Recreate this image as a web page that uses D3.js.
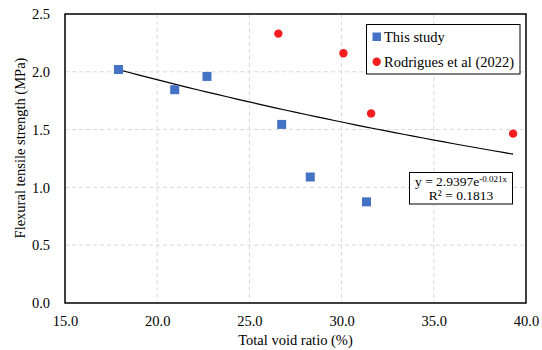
<!DOCTYPE html>
<html><head><meta charset="utf-8">
<script src="https://cdn.jsdelivr.net/npm/d3@7"></script>
<style>body{margin:0;background:#fff}svg{display:block}</style>
</head><body>
<svg id="c" width="542" height="350"></svg>
<script>
const thisStudyX = [17.9, 20.95, 22.7, 26.75, 28.3, 31.35];
const thisStudyY = [2.02, 1.845, 1.96, 1.545, 1.09, 0.875];
const rodriguesX = [26.57, 30.1, 31.6, 39.3];
const rodriguesY = [2.33, 2.16, 1.64, 1.465];
const xTicks = [15, 20, 25, 30, 35, 40];
const yTicks = [0, 0.5, 1.0, 1.5, 2.0, 2.5];
const trendA = 2.9397, trendB = -0.021, trendFrom = 17.9, trendTo = 39.3;
const seriesNames = ["This study", "Rodrigues et al (2022)"];

const FONT = "Liberation Serif";
const svg = d3.select("#c");
const L = 65, R = 526, T = 14, B = 303;
const x = d3.scaleLinear().domain([15, 40]).range([L, R]);
const y = d3.scaleLinear().domain([0, 2.5]).range([B, T]);

// gridlines
svg.append("g").selectAll("line").data(yTicks.filter(d => d > 0 && d < 2.5)).join("line")
  .attr("x1", L).attr("x2", R).attr("y1", d => y(d)).attr("y2", d => y(d))
  .attr("stroke", "#d9d9d9").attr("stroke-width", 1).attr("stroke-dasharray", "4,3");
svg.append("g").selectAll("line").data(xTicks.filter(d => d > 15 && d < 40)).join("line")
  .attr("y1", T).attr("y2", B).attr("x1", d => x(d)).attr("x2", d => x(d))
  .attr("stroke", "#d9d9d9").attr("stroke-width", 1).attr("stroke-dasharray", "4,3");

// axes
const fs = 14.5;
const xAxis = svg.append("g").attr("transform", `translate(0,${B})`)
  .call(d3.axisBottom(x).tickValues(xTicks).tickFormat(d3.format(".1f")).tickSize(0).tickPadding(13))
  .attr("font-family", FONT).attr("font-size", fs);
xAxis.select(".domain").remove();
const yAxis = svg.append("g").attr("transform", `translate(${L},0)`)
  .call(d3.axisLeft(y).tickValues(yTicks).tickFormat(d3.format(".1f")).tickSize(0).tickPadding(15))
  .attr("font-family", FONT).attr("font-size", fs);
yAxis.select(".domain").remove();
svg.selectAll(".tick text").attr("fill", "#000");

// plot border
svg.append("rect").attr("x", L).attr("y", T).attr("width", R - L).attr("height", B - T)
  .attr("fill", "none").attr("stroke", "#000").attr("stroke-width", 1.5);

// trendline
const tx = d3.range(0, 41).map(i => trendFrom + (trendTo - trendFrom) * i / 40);
svg.append("path").datum(tx)
  .attr("d", d3.line().x(d => x(d)).y(d => y(trendA * Math.exp(trendB * d))))
  .attr("fill", "none").attr("stroke", "#000").attr("stroke-width", 1.2);

// markers
svg.append("g").selectAll("rect").data(thisStudyX.map((v, i) => [v, thisStudyY[i]])).join("rect")
  .attr("x", d => x(d[0]) - 4.5).attr("y", d => y(d[1]) - 4.5).attr("width", 9).attr("height", 9)
  .attr("fill", "#4472c4");
svg.append("g").selectAll("circle").data(rodriguesX.map((v, i) => [v, rodriguesY[i]])).join("circle")
  .attr("cx", d => x(d[0])).attr("cy", d => y(d[1])).attr("r", 4.2)
  .attr("fill", "#f51e1e");

// axis titles
svg.append("text").attr("x", (L + R) / 2).attr("y", 345).attr("text-anchor", "middle")
  .attr("font-family", FONT).attr("font-size", fs).text("Total void ratio (%)");
svg.append("text").attr("transform", "translate(25,148) rotate(-90)").attr("text-anchor", "middle")
  .attr("font-family", FONT).attr("font-size", fs).text("Flexural tensile strength (MPa)");

// legend
const lg = svg.append("g").attr("font-family", FONT);
lg.append("rect").attr("x", 366.5).attr("y", 24.5).attr("width", 153.5).attr("height", 49.5)
  .attr("fill", "#fff").attr("stroke", "#000").attr("stroke-width", 1);
lg.append("rect").attr("x", 372.5).attr("y", 32.5).attr("width", 8.5).attr("height", 8.5).attr("fill", "#4472c4");
lg.append("circle").attr("cx", 376.7).attr("cy", 61.7).attr("r", 4.2).attr("fill", "#f51e1e");
lg.append("text").attr("x", 384).attr("y", 41.5).attr("font-family", FONT).attr("font-size", 14.5).text(seriesNames[0]);
lg.append("text").attr("x", 384).attr("y", 66.5).attr("font-family", FONT).attr("font-size", 14.5).text(seriesNames[1]);

// equation box
const eg = svg.append("g");
eg.append("rect").attr("x", 409.5).attr("y", 172.5).attr("width", 103).attr("height", 31.5)
  .attr("fill", "#fff").attr("stroke", "#000").attr("stroke-width", 1);
const t1 = eg.append("text").attr("x", 461).attr("y", 186).attr("text-anchor", "middle")
  .attr("font-family", FONT).attr("font-size", 13.5);
t1.append("tspan").text("y = " + trendA + "e");
t1.append("tspan").attr("dy", -4).attr("font-size", 9).text(trendB + "x");
eg.append("text").attr("x", 461).attr("y", 199.5).attr("text-anchor", "middle")
  .attr("font-family", FONT).attr("font-size", 13.5).text("R² = 0.1813");
</script>
</body></html>
